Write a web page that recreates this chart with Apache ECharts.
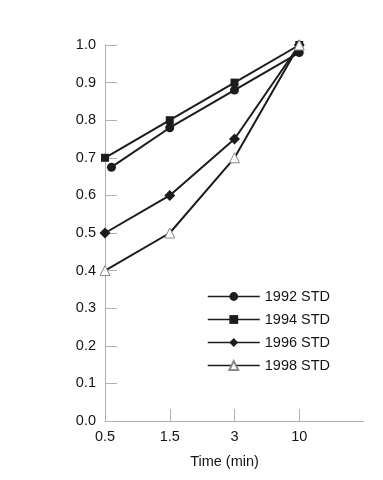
<!DOCTYPE html>
<html><head><meta charset="utf-8">
<script src="https://cdn.jsdelivr.net/npm/echarts@6/dist/echarts.min.js"></script>
<style>html,body{margin:0;padding:0;background:#fff}#c{width:383px;height:480px}</style>
</head><body><div id="c"></div>
<script>
const categories = ['0.5', '1.5', '3', '10'];
const xIndex1992 = [0.1, 1, 2, 3];
const xIndex = [0, 1, 2, 3];
const std1992 = [0.675, 0.78, 0.88, 0.98];
const std1994 = [0.70, 0.80, 0.90, 1.00];
const std1996 = [0.50, 0.60, 0.75, 1.00];
const std1998 = [0.40, 0.50, 0.70, 1.00];
const yTicks = [0, 0.1, 0.2, 0.3, 0.4, 0.5, 0.6, 0.7, 0.8, 0.9, 1.0];

const font = 'Liberation Sans, Arial, Helvetica, sans-serif';
const lineColor = '#1c1c1c';
const textColor = '#151515';
const pairs = (xs, ys) => ys.map((v, i) => [xs[i], v]);

function mk(name, xs, ys, symbol, size, fill, border) {
  return {
    name, type: 'line', data: pairs(xs, ys), symbol, symbolSize: size,
    lineStyle: { color: lineColor, width: 2 },
    itemStyle: { color: fill, borderColor: border, borderWidth: border === fill ? 0 : 1 },
    emphasis: { disabled: true }, animation: false
  };
}

const chart = echarts.init(document.getElementById('c'), null, { renderer: 'canvas' });
chart.setOption({
  animation: false,
  textStyle: { fontFamily: font },
  grid: { left: 105, right: 19, top: 45, bottom: 59, containLabel: false },
  legend: {
    orient: 'vertical', left: 202, top: 284, itemWidth: 52, itemHeight: 11, itemGap: 8,
    lineStyle: { width: 1.5 },
    textStyle: { fontFamily: font, fontSize: 14.5, color: textColor },
    data: ['1992 STD', '1994 STD', '1996 STD', '1998 STD']
  },
  xAxis: {
    type: 'value', min: 0, max: 4, interval: 1,
    name: 'Time (min)', nameLocation: 'middle', nameGap: 33,
    nameTextStyle: { fontFamily: font, fontSize: 14.5, color: textColor, padding: [0, 20, 0, 0] },
    axisLine: { show: true, lineStyle: { color: '#b0b0b0', width: 1 } },
    axisTick: { show: true, inside: true, length: 12, customValues: [1, 2, 3], lineStyle: { color: '#b0b0b0' } },
    axisLabel: { customValues: [0, 1, 2, 3], formatter: v => categories[Math.round(v)] ?? '', fontFamily: font, fontSize: 14.5, color: textColor, margin: 8 },
    splitLine: { show: false }
  },
  yAxis: {
    type: 'value', min: 0, max: 1, interval: 0.1,
    axisLine: { show: true, lineStyle: { color: '#b0b0b0', width: 1 } },
    axisTick: { show: true, inside: true, length: 12, lineStyle: { color: '#b0b0b0' } },
    axisLabel: { formatter: v => yTicks.find(t => Math.abs(t - v) < 1e-6)?.toFixed(1) ?? '', fontFamily: font, fontSize: 14.5, color: textColor, margin: 9 },
    splitLine: { show: false }
  },
  series: [
    mk('1992 STD', xIndex1992, std1992, 'circle', 9, '#1c1c1c', '#1c1c1c'),
    mk('1994 STD', xIndex, std1994, 'rect', 8, '#1c1c1c', '#1c1c1c'),
    mk('1996 STD', xIndex, std1996, 'diamond', 11, '#1c1c1c', '#1c1c1c'),
    mk('1998 STD', xIndex, std1998, 'triangle', 10, '#ffffff', '#888888')
  ]
});
</script></body></html>
